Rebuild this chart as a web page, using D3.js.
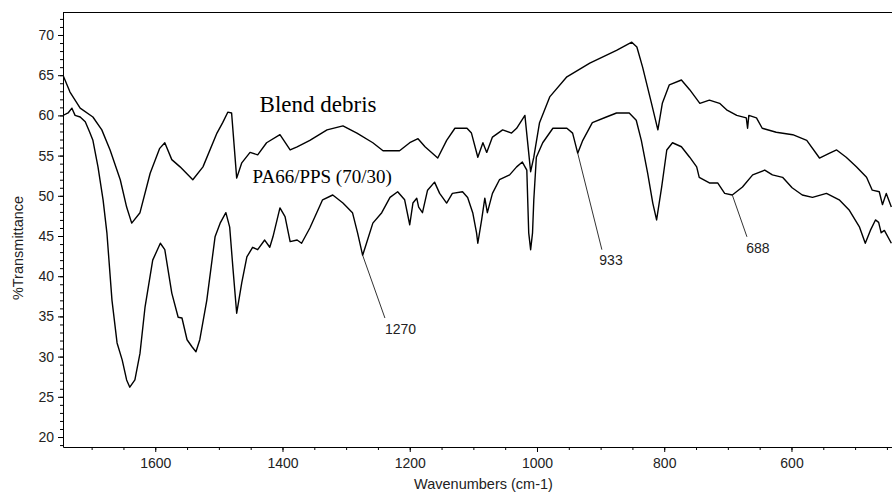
<!DOCTYPE html>
<html>
<head>
<meta charset="utf-8">
<script src="https://cdn.jsdelivr.net/npm/d3@7"></script>
<style>
  body { margin: 0; background: #fff; }
  svg { display: block; }
  .axis text { font-family: "Liberation Sans", Arial, sans-serif; font-size: 14px; fill: #222; }
  .axis path, .axis line { stroke: #000; }
</style>
</head>
<body>
<svg id="chart" width="892" height="496"></svg>
<script>
// Blend debris (upper trace): wavenumber (cm-1) and %T
const blendWn = [1745, 1734, 1718, 1698, 1684, 1671, 1655, 1645, 1637, 1624, 1608, 1593, 1585, 1574, 1561, 1541, 1525, 1503, 1494, 1486,
  1480, 1472, 1464, 1451, 1439, 1425, 1404, 1388, 1377, 1357, 1330, 1305, 1283, 1258, 1242, 1216, 1200, 1187, 1176, 1156,
  1142, 1129, 1110, 1103, 1093, 1085, 1079, 1070, 1054, 1040, 1032, 1019, 1015, 1010, 1005, 996, 980, 953, 917, 875,
  851, 843, 834, 820, 810, 803, 792, 773, 760, 744, 729, 713, 702, 686, 671, 669, 667, 655, 646, 624,
  598, 576, 556, 540, 529, 514, 498, 482, 473, 462, 457, 451, 443];
const blendT = [65.0, 62.9, 60.9, 59.8, 58.2, 55.7, 52.0, 48.6, 46.6, 47.9, 52.8, 55.9, 56.6, 54.5, 53.6, 52.0, 53.6, 57.8, 59.1, 60.4,
  60.3, 52.2, 54.1, 55.4, 55.1, 56.6, 57.6, 55.7, 56.1, 56.9, 58.2, 58.7, 57.8, 56.6, 55.6, 55.6, 56.6, 57.1, 56.1, 54.7,
  56.9, 58.4, 58.4, 57.8, 54.8, 56.6, 55.4, 57.3, 58.2, 57.8, 58.4, 60.0, 56.9, 53.0, 54.8, 59.1, 62.3, 64.8, 66.5, 68.1,
  69.1, 68.5, 66.0, 61.5, 58.2, 61.5, 63.8, 64.4, 63.2, 61.5, 61.9, 61.5, 60.7, 60.0, 59.7, 58.4, 60.0, 59.7, 58.4, 57.9,
  57.6, 56.9, 54.7, 55.3, 55.7, 54.8, 53.6, 52.3, 50.7, 50.5, 48.9, 50.3, 48.6];

// PA66/PPS (70/30) (lower trace)
const pa66Wn = [1745, 1737, 1731, 1726, 1718, 1710, 1703, 1698, 1690, 1682, 1676, 1668, 1660, 1652, 1645, 1640, 1632, 1624, 1616, 1604,
  1592, 1585, 1574, 1564, 1558, 1550, 1542, 1536, 1530, 1519, 1506, 1498, 1489, 1483, 1478, 1472, 1464, 1456, 1447, 1439,
  1428, 1420, 1415, 1404, 1396, 1388, 1377, 1370, 1357, 1337, 1321, 1305, 1290, 1282, 1274, 1268, 1258, 1244, 1231, 1219,
  1208, 1200, 1195, 1189, 1186, 1180, 1172, 1161, 1153, 1142, 1133, 1117, 1109, 1101, 1095, 1093, 1087, 1082, 1078, 1070,
  1059, 1043, 1032, 1023, 1016, 1013, 1010, 1007, 1005, 1001, 991, 975, 953, 944, 936, 928, 913, 891, 875, 855,
  844, 836, 826, 818, 812, 804, 796, 787, 773, 760, 749, 745, 729, 716, 705, 693, 677, 661, 642, 630,
  614, 599, 583, 567, 545, 525, 509, 493, 484, 476, 468, 463, 459, 454, 443];
const pa66T = [60.0, 60.3, 60.9, 60.0, 59.8, 59.2, 57.9, 56.9, 53.6, 49.5, 45.4, 37.0, 31.7, 29.6, 27.1, 26.2, 27.1, 30.4, 36.2, 42.0,
  44.1, 43.3, 37.9, 34.9, 34.8, 32.1, 31.2, 30.6, 32.1, 37.0, 44.9, 46.6, 47.9, 46.1, 41.1, 35.4, 39.2, 42.4, 43.6, 43.3,
  44.5, 43.6, 44.9, 48.5, 47.4, 44.3, 44.5, 44.1, 46.0, 49.5, 50.1, 49.1, 47.9, 45.4, 42.6, 44.1, 46.6, 47.9, 49.8, 50.5,
  49.5, 46.4, 49.1, 49.7, 48.6, 47.9, 50.7, 51.7, 50.3, 49.1, 50.3, 50.5, 49.8, 47.9, 45.4, 44.1, 47.0, 49.7, 47.9, 50.3,
  52.0, 52.6, 53.6, 54.2, 53.2, 45.4, 43.3, 45.4, 49.5, 54.8, 56.6, 58.4, 58.4, 57.8, 55.3, 56.9, 59.1, 59.8, 60.3, 60.3,
  59.4, 56.9, 52.8, 49.1, 47.0, 51.1, 55.7, 56.6, 56.1, 54.8, 53.6, 52.3, 51.6, 51.6, 50.3, 50.1, 51.1, 52.6, 53.2, 52.6,
  52.3, 51.0, 50.1, 49.8, 50.3, 49.5, 48.2, 46.1, 44.1, 45.7, 47.0, 46.7, 45.4, 45.7, 44.1];

// tick values
const xMajor = [1600, 1400, 1200, 1000, 800, 600];
const xMinor = d3.range(1700, 449, -50);
const yMajor = [20, 25, 30, 35, 40, 45, 50, 55, 60, 65, 70];
const yMinor = d3.range(19, 73, 1);

// peak labels: point on curve, end of leader, label anchor
const peakLabel = ["1270", "933", "688"];
const peakWn = [1274, 936, 693];
const peakT = [42.6, 55.3, 50.1];
const leaderWn = [1239, 898, 670];
const leaderT = [34.8, 43.3, 44.9];
const textWn = [1239, 902, 671];
const textT = [32.8, 41.4, 42.9];

// trace names
const traceNames = ["Blend debris", "PA66/PPS (70/30)"];
const nameWn = [1436, 1447];
const nameT = [60.4, 51.6];
const nameSize = [23, 19];

const width = 892, height = 496;
const margins = { top: 12, right: 0, bottom: 49, left: 63 };
const svg = d3.select("#chart");

const xScale = d3.scaleLinear()
  .domain([1745, 442])
  .range([margins.left, width - margins.right]);
const yScale = d3.scaleLinear()
  .domain([18.76, 72.86])
  .range([height - margins.bottom, margins.top]);

svg.append("defs").append("clipPath").attr("id", "plotClip")
  .append("rect")
  .attr("x", margins.left).attr("y", margins.top)
  .attr("width", width - margins.left - margins.right)
  .attr("height", height - margins.top - margins.bottom);

// frame: top line
svg.append("line")
  .attr("x1", margins.left).attr("x2", width)
  .attr("y1", margins.top + 0.5).attr("y2", margins.top + 0.5)
  .attr("stroke", "#000");

// x axis
svg.append("g")
  .attr("class", "axis")
  .attr("transform", `translate(0, ${height - margins.bottom})`)
  .call(d3.axisBottom(xScale).tickValues(xMinor).tickSize(3).tickFormat(""))
  .call(g => g.select(".domain").remove());
svg.append("g")
  .attr("class", "axis")
  .attr("transform", `translate(0, ${height - margins.bottom})`)
  .call(d3.axisBottom(xScale).tickValues(xMajor).tickSize(5).tickSizeOuter(0).tickPadding(6).tickFormat(d3.format("d")));

// y axis
svg.append("g")
  .attr("class", "axis")
  .attr("transform", `translate(${margins.left}, 0)`)
  .call(d3.axisLeft(yScale).tickValues(yMinor).tickSize(3).tickFormat(""))
  .call(g => g.select(".domain").remove());
svg.append("g")
  .attr("class", "axis")
  .attr("transform", `translate(${margins.left}, 0)`)
  .call(d3.axisLeft(yScale).tickValues(yMajor).tickSize(5).tickSizeOuter(0).tickPadding(4).tickFormat(d3.format("d")));

// axis titles
svg.append("text")
  .attr("x", (margins.left + width) / 2 + 6)
  .attr("y", height - 7)
  .attr("text-anchor", "middle")
  .attr("font-family", "Liberation Sans, Arial, sans-serif")
  .attr("font-size", "14.5px")
  .attr("fill", "#222")
  .text("Wavenumbers (cm-1)");
svg.append("text")
  .attr("transform", `translate(23, 248) rotate(-90)`)
  .attr("text-anchor", "middle")
  .attr("font-family", "Liberation Sans, Arial, sans-serif")
  .attr("font-size", "14.5px")
  .attr("fill", "#222")
  .text("%Transmittance");

// traces
const line = d3.line()
  .x(d => xScale(d[0]))
  .y(d => yScale(d[1]));

const plot = svg.append("g").attr("clip-path", "url(#plotClip)");
[[blendWn, blendT], [pa66Wn, pa66T]].forEach(([wn, t]) => {
  plot.append("path")
    .datum(wn.map((w, i) => [w, t[i]]))
    .attr("fill", "none")
    .attr("stroke", "#000")
    .attr("stroke-width", 1.4)
    .attr("stroke-linejoin", "round")
    .attr("d", line);
});

// trace names
traceNames.forEach((name, i) => {
  svg.append("text")
    .attr("x", xScale(nameWn[i]))
    .attr("y", yScale(nameT[i]))
    .attr("font-family", "Liberation Serif, Times New Roman, serif")
    .attr("font-size", nameSize[i] + "px")
    .attr("fill", "#000")
    .text(name);
});

// peak labels with leaders
peakLabel.forEach((lab, i) => {
  svg.append("line")
    .attr("x1", xScale(peakWn[i])).attr("y1", yScale(peakT[i]))
    .attr("x2", xScale(leaderWn[i])).attr("y2", yScale(leaderT[i]))
    .attr("stroke", "#333")
    .attr("stroke-width", 1);
  svg.append("text")
    .attr("x", xScale(textWn[i]))
    .attr("y", yScale(textT[i]))
    .attr("font-family", "Liberation Sans, Arial, sans-serif")
    .attr("font-size", "14px")
    .attr("fill", "#222")
    .text(lab);
});
</script>
</body>
</html>
